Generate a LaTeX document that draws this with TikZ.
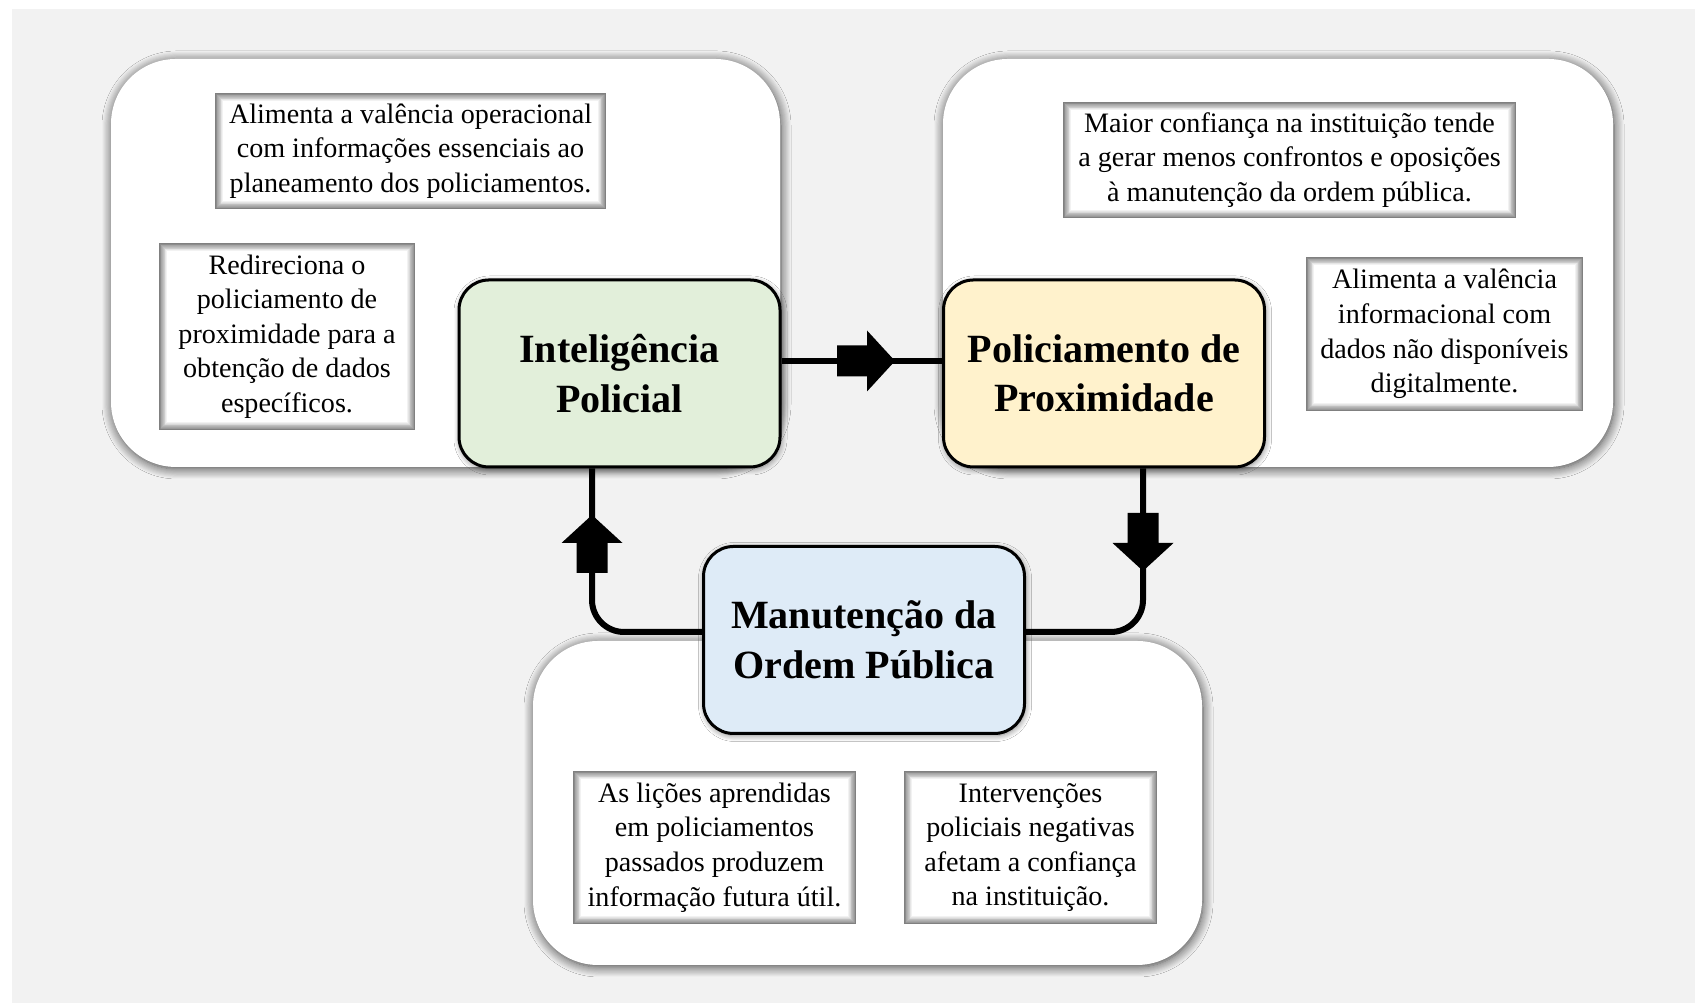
\documentclass[tikz,border=0pt]{standalone}
\usepackage{fontspec}
\setmainfont{Liberation Serif}
\usetikzlibrary{shadows.blur}

\definecolor{cinza}{HTML}{F2F2F2}
\definecolor{verde}{HTML}{E2EFDA}
\definecolor{amarelo}{HTML}{FFF2CC}
\definecolor{azul}{HTML}{DEEBF7}

\tikzset{
  fundo/.style={fill=white, rounded corners=0.65cm,
    blur shadow={shadow xshift=0.01cm, shadow yshift=-0.02cm, shadow blur radius=0.1cm, shadow blur steps=10, shadow opacity=75}},
  bloco/.style={draw, line width=0.03cm, rounded corners=0.3cm, align=center,
    minimum width=3.21cm, minimum height=1.87cm, font=\fontsize{11.4}{14.1}\selectfont\bfseries,
    blur shadow={shadow xshift=0.01cm, shadow yshift=-0.02cm, shadow blur radius=0.06cm, shadow blur steps=8, shadow opacity=50}},
  nota/.style={fill=white, align=center, inner sep=0pt, font=\fontsize{8}{9.85}\selectfont,
    path picture={
      \foreach \k in {0,...,10}{
        \pgfmathtruncatemacro{\tom}{50-5*\k}
        \draw[black!\tom, line width=0.009cm]
          ([shift={(\k*0.008cm+0.004cm,\k*0.008cm+0.004cm)}]path picture bounding box.south west) rectangle
          ([shift={(-\k*0.008cm-0.004cm,-\k*0.008cm-0.004cm)}]path picture bounding box.north east);
      }}},
  ligacao/.style={line width=0.06cm, rounded corners=0.32cm},
  seta/.pic={\fill (-0.30,-0.155) -- (0,-0.155) -- (0,-0.305) -- (0.28,0) -- (0,0.305) -- (0,0.155) -- (-0.30,0.155) -- cycle;}
}

\begin{document}
\begin{tikzpicture}
\useasboundingbox (0,0) rectangle (16.95,10.03);
\fill[white] (0,0) rectangle (16.95,10.03);
\fill[cinza] (0.12,0) rectangle (16.95,9.94);

\fill[fundo] (1.11,5.36) rectangle (7.80,9.44);
\fill[fundo] (9.43,5.36) rectangle (16.13,9.44);
\fill[fundo] (5.33,0.38) rectangle (12.02,3.62);

\draw (4.105,8.52)node[nota, minimum width=3.91cm, minimum height=1.16cm](t1){Alimenta a valência operacional\\com informações essenciais ao\\planeamento dos policiamentos.};
\draw (2.87,6.665)node[nota, minimum width=2.56cm, minimum height=1.87cm](t2){Redireciona o\\policiamento de\\proximidade para a\\obtenção de dados\\específicos.};
\draw (12.895,8.43)node[nota, minimum width=4.53cm, minimum height=1.16cm](t3){Maior confiança na instituição tende\\a gerar menos confrontos e oposições\\à manutenção da ordem pública.};
\draw (14.445,6.69)node[nota, minimum width=2.77cm, minimum height=1.54cm](t4){Alimenta a valência\\informacional com\\dados não disponíveis\\digitalmente.};
\draw (7.145,1.555)node[nota, minimum width=2.83cm, minimum height=1.53cm](t5){As lições aprendidas\\em policiamentos\\passados produzem\\informação futura útil.};
\draw (10.305,1.555)node[nota, minimum width=2.53cm, minimum height=1.53cm](t6){Intervenções\\policiais negativas\\afetam a confiança\\na instituição.};

\draw (6.195,6.295)node[bloco, fill=verde](intel){Inteligência\\Policial};
\draw (11.04,6.295)node[bloco, fill=amarelo](prox){Policiamento de\\Proximidade};
\draw (8.64,3.63)node[bloco, fill=azul](ordem){Manutenção da\\Ordem Pública};

\draw[ligacao] ([yshift=0.125cm]intel.east) -- ([yshift=0.125cm]prox.west);
\pic at (8.67,6.42) {seta};

\draw[ligacao] ([xshift=0.39cm]prox.south) |- ([yshift=0.08cm]ordem.east);
\pic[rotate=-90] at (11.43,4.60) {seta};

\draw[ligacao] ([yshift=0.08cm]ordem.west) -| ([xshift=-0.275cm]intel.south);
\pic[rotate=90] at (5.92,4.60) {seta};
\end{tikzpicture}
\end{document}
